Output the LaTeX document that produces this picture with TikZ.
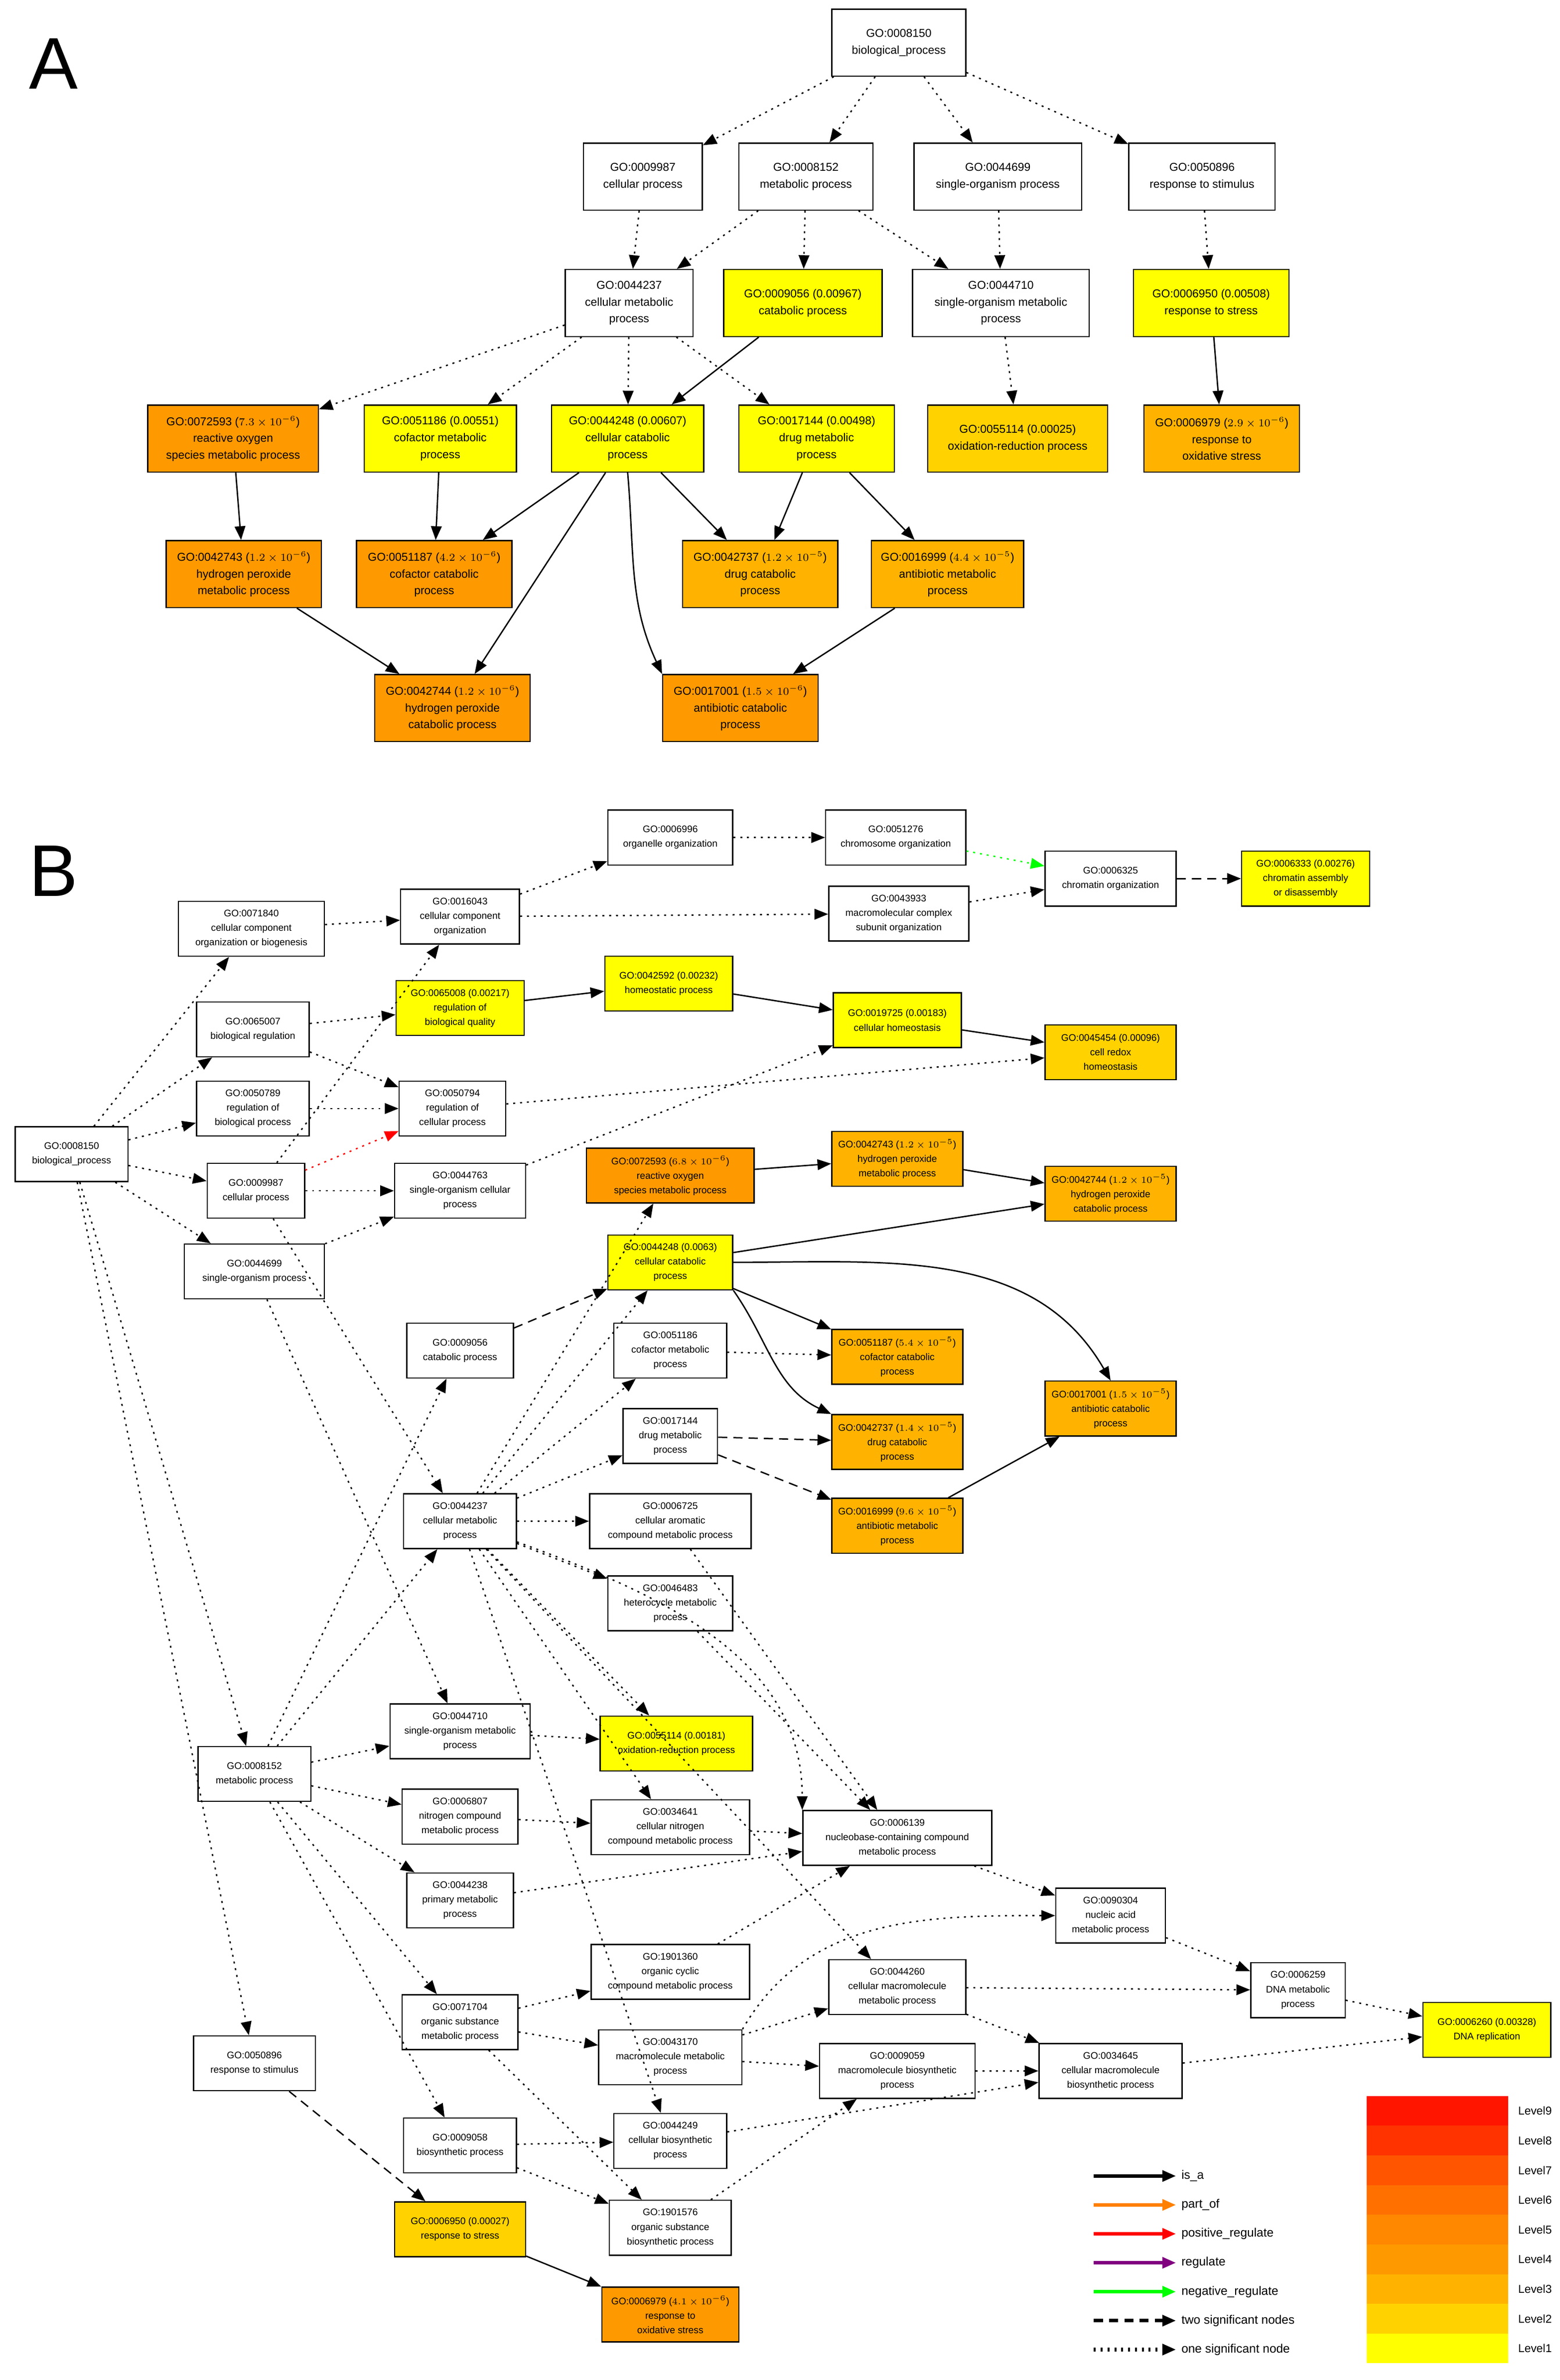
\documentclass[tikz,border=0pt]{standalone}
\usepackage{fontspec}
\setmainfont{Liberation Sans}
\usetikzlibrary{arrows.meta}
\definecolor{lv1}{HTML}{FFFF00}
\definecolor{lv2}{HTML}{FFD200}
\definecolor{lv3}{HTML}{FFB300}
\definecolor{lv4}{HTML}{FF9900}
\definecolor{lv5}{HTML}{FF8800}
\definecolor{lv6}{HTML}{FF7000}
\definecolor{lv7}{HTML}{FF5500}
\definecolor{lv8}{HTML}{FF3300}
\definecolor{lv9}{HTML}{FF1500}
\definecolor{regcol}{HTML}{800080}
\tikzset{
  box/.style={draw, thick, rectangle, align=center, fill=white, inner sep=2pt},
  boxa/.style={box, font=\fontsize{7.5}{11}\selectfont, minimum height=44pt},
  boxb/.style={box, font=\fontsize{6.3}{9.5}\selectfont, minimum height=36pt},
  isa/.style={-{Triangle[length=9pt,width=7pt]}, line width=0.9pt},
  dot/.style={isa, dash pattern=on 1.3pt off 3.2pt},
  dsh/.style={isa, dash pattern=on 6pt off 4pt},
}
\newcommand{\pv}[2]{(\ensuremath{#1\times10^{-#2}})}
\begin{document}
\begin{tikzpicture}[x=1pt,y=-1pt]
\useasboundingbox (0,0) rectangle (1024,1563);

%Panel letters
\node[font=\fontsize{48}{48}\selectfont\rmfamily] (lblA) at (35,42) {A};
\node[font=\fontsize{48}{48}\selectfont\rmfamily] (lblB) at (35,572) {B};

%Panel A nodes
\node[boxa, minimum width=88pt] (a0) at (590,28) {GO:0008150\\biological\_process};
\node[boxa, minimum width=78pt] (a1) at (422,116) {GO:0009987\\cellular process};
\node[boxa, minimum width=88pt] (a2) at (529,116) {GO:0008152\\metabolic process};
\node[boxa, minimum width=110pt] (a3) at (655,116) {GO:0044699\\single-organism process};
\node[boxa, minimum width=96pt] (a4) at (789,116) {GO:0050896\\response to stimulus};
\node[boxa, minimum width=84pt] (a5) at (413,199) {GO:0044237\\cellular metabolic\\process};
\node[boxa, minimum width=104pt, fill=lv1] (a6) at (527,199) {GO:0009056 (0.00967)\\catabolic process};
\node[boxa, minimum width=116pt] (a7) at (657,199) {GO:0044710\\single-organism metabolic\\process};
\node[boxa, minimum width=102pt, fill=lv1] (a8) at (795,199) {GO:0006950 (0.00508)\\response to stress};
\node[boxa, minimum width=112pt, fill=lv4] (a9) at (153,288) {GO:0072593 \pv{7.3}{6}\\reactive oxygen\\species metabolic process};
\node[boxa, minimum width=100pt, fill=lv1] (a10) at (289,288) {GO:0051186 (0.00551)\\cofactor metabolic\\process};
\node[boxa, minimum width=100pt, fill=lv1] (a11) at (412,288) {GO:0044248 (0.00607)\\cellular catabolic\\process};
\node[boxa, minimum width=102pt, fill=lv1] (a12) at (536,288) {GO:0017144 (0.00498)\\drug metabolic\\process};
\node[boxa, minimum width=118pt, fill=lv2] (a13) at (668,288) {GO:0055114 (0.00025)\\oxidation-reduction process};
\node[boxa, minimum width=102pt, fill=lv3] (a14) at (802,288) {GO:0006979 \pv{2.9}{6}\\response to\\oxidative stress};
\node[boxa, minimum width=102pt, fill=lv4] (a15) at (160,377) {GO:0042743 \pv{1.2}{6}\\hydrogen peroxide\\metabolic process};
\node[boxa, minimum width=102pt, fill=lv4] (a16) at (285,377) {GO:0051187 \pv{4.2}{6}\\cofactor catabolic\\process};
\node[boxa, minimum width=102pt, fill=lv3] (a17) at (499,377) {GO:0042737 \pv{1.2}{5}\\drug catabolic\\process};
\node[boxa, minimum width=100pt, fill=lv3] (a18) at (622,377) {GO:0016999 \pv{4.4}{5}\\antibiotic metabolic\\process};
\node[boxa, minimum width=102pt, fill=lv4] (a19) at (297,465) {GO:0042744 \pv{1.2}{6}\\hydrogen peroxide\\catabolic process};
\node[boxa, minimum width=102pt, fill=lv4] (a20) at (486,465) {GO:0017001 \pv{1.5}{6}\\antibiotic catabolic\\process};

%Panel A edges
\foreach \s/\t in {a0/a1,a0/a2,a0/a3,a0/a4,a1/a5,a2/a5,a2/a6,a2/a7,a3/a7,a4/a8,a5/a9,a5/a10,a5/a11,a5/a12,a7/a13}
  \draw[dot] (\s) -- (\t);
\foreach \s/\t in {a6/a11,a8/a14,a9/a15,a10/a16,a11/a16,a11/a19,a11/a17,a12/a17,a12/a18,a15/a19,a18/a20}
  \draw[isa] (\s) -- (\t);
\draw[isa] (a11.south) to[out=-85,in=115] (a20.north west);

%Panel B nodes
\node[boxb, minimum width=74pt] (b0) at (47,758) {GO:0008150\\biological\_process};
\node[boxb, minimum width=96pt] (b1) at (165,610) {GO:0071840\\cellular component\\organization or biogenesis};
\node[boxb, minimum width=74pt] (b2) at (166,676) {GO:0065007\\biological regulation};
\node[boxb, minimum width=74pt] (b3) at (166,728) {GO:0050789\\regulation of\\biological process};
\node[boxb, minimum width=64pt] (b4) at (168,782) {GO:0009987\\cellular process};
\node[boxb, minimum width=92pt] (b5) at (167,835) {GO:0044699\\single-organism process};
\node[boxb, minimum width=78pt] (b6) at (302,602) {GO:0016043\\cellular component\\organization};
\node[boxb, minimum width=84pt, fill=lv1] (b7) at (302,662) {GO:0065008 (0.00217)\\regulation of\\biological quality};
\node[boxb, minimum width=70pt] (b8) at (297,728) {GO:0050794\\regulation of\\cellular process};
\node[boxb, minimum width=86pt] (b9) at (302,782) {GO:0044763\\single-organism cellular\\process};
\node[boxb, minimum width=82pt] (b10) at (440,550) {GO:0006996\\organelle organization};
\node[boxb, minimum width=92pt] (b11) at (588,550) {GO:0051276\\chromosome organization};
\node[boxb, minimum width=92pt] (b12) at (590,600) {GO:0043933\\macromolecular complex\\subunit organization};
\node[boxb, minimum width=86pt] (b13) at (729,577) {GO:0006325\\chromatin organization};
\node[boxb, minimum width=84pt, fill=lv1] (b14) at (857,577) {GO:0006333 (0.00276)\\chromatin assembly\\or disassembly};
\node[boxb, minimum width=84pt, fill=lv1] (b15) at (439,646) {GO:0042592 (0.00232)\\homeostatic process};
\node[boxb, minimum width=84pt, fill=lv1] (b16) at (589,670) {GO:0019725 (0.00183)\\cellular homeostasis};
\node[boxb, minimum width=86pt, fill=lv2] (b17) at (729,691) {GO:0045454 (0.00096)\\cell redox\\homeostasis};
\node[boxb, minimum width=110pt, fill=lv4] (b18) at (440,772) {GO:0072593 \pv{6.8}{6}\\reactive oxygen\\species metabolic process};
\node[boxb, minimum width=86pt, fill=lv3] (b19) at (589,761) {GO:0042743 \pv{1.2}{5}\\hydrogen peroxide\\metabolic process};
\node[boxb, minimum width=86pt, fill=lv3] (b20) at (729,784) {GO:0042744 \pv{1.2}{5}\\hydrogen peroxide\\catabolic process};
\node[boxb, minimum width=82pt, fill=lv1] (b21) at (440,829) {GO:0044248 (0.0063)\\cellular catabolic\\process};
\node[boxb, minimum width=70pt] (b22) at (302,887) {GO:0009056\\catabolic process};
\node[boxb, minimum width=74pt] (b23) at (440,887) {GO:0051186\\cofactor metabolic\\process};
\node[boxb, minimum width=86pt, fill=lv3] (b24) at (589,891) {GO:0051187 \pv{5.4}{5}\\cofactor catabolic\\process};
\node[boxb, minimum width=86pt, fill=lv3] (b25) at (729,925) {GO:0017001 \pv{1.5}{5}\\antibiotic catabolic\\process};
\node[boxb, minimum width=62pt] (b26) at (440,943) {GO:0017144\\drug metabolic\\process};
\node[boxb, minimum width=86pt, fill=lv3] (b27) at (589,947) {GO:0042737 \pv{1.4}{5}\\drug catabolic\\process};
\node[boxb, minimum width=74pt] (b28) at (302,999) {GO:0044237\\cellular metabolic\\process};
\node[boxb, minimum width=106pt] (b29) at (440,999) {GO:0006725\\cellular aromatic\\compound metabolic process};
\node[boxb, minimum width=86pt, fill=lv3] (b30) at (589,1002) {GO:0016999 \pv{9.6}{5}\\antibiotic metabolic\\process};
\node[boxb, minimum width=82pt] (b31) at (440,1053) {GO:0046483\\heterocycle metabolic\\process};
\node[boxb, minimum width=92pt] (b32) at (302,1137) {GO:0044710\\single-organism metabolic\\process};
\node[boxb, minimum width=100pt, fill=lv1] (b33) at (444,1145) {GO:0055114 (0.00181)\\oxidation-reduction process};
\node[boxb, minimum width=74pt] (b34) at (167,1165) {GO:0008152\\metabolic process};
\node[boxb, minimum width=76pt] (b35) at (302,1193) {GO:0006807\\nitrogen compound\\metabolic process};
\node[boxb, minimum width=104pt] (b36) at (440,1200) {GO:0034641\\cellular nitrogen\\compound metabolic process};
\node[boxb, minimum width=124pt] (b37) at (589,1207) {GO:0006139\\nucleobase-containing compound\\metabolic process};
\node[boxb, minimum width=70pt] (b38) at (302,1248) {GO:0044238\\primary metabolic\\process};
\node[boxb, minimum width=72pt] (b39) at (729,1258) {GO:0090304\\nucleic acid\\metabolic process};
\node[boxb, minimum width=104pt] (b40) at (440,1295) {GO:1901360\\organic cyclic\\compound metabolic process};
\node[boxb, minimum width=90pt] (b41) at (589,1305) {GO:0044260\\cellular macromolecule\\metabolic process};
\node[boxb, minimum width=62pt] (b42) at (852,1307) {GO:0006259\\DNA metabolic\\process};
\node[boxb, minimum width=84pt, fill=lv1] (b43) at (976,1333) {GO:0006260 (0.00328)\\DNA replication};
\node[boxb, minimum width=76pt] (b44) at (302,1328) {GO:0071704\\organic substance\\metabolic process};
\node[boxb, minimum width=94pt] (b45) at (440,1351) {GO:0043170\\macromolecule metabolic\\process};
\node[boxb, minimum width=102pt] (b46) at (589,1360) {GO:0009059\\macromolecule biosynthetic\\process};
\node[boxb, minimum width=94pt] (b47) at (729,1360) {GO:0034645\\cellular macromolecule\\biosynthetic process};
\node[boxb, minimum width=80pt] (b48) at (167,1355) {GO:0050896\\response to stimulus};
\node[boxb, minimum width=74pt] (b49) at (302,1409) {GO:0009058\\biosynthetic process};
\node[boxb, minimum width=74pt] (b50) at (440,1406) {GO:0044249\\cellular biosynthetic\\process};
\node[boxb, minimum width=80pt] (b51) at (440,1463) {GO:1901576\\organic substance\\biosynthetic process};
\node[boxb, minimum width=86pt, fill=lv2] (b52) at (302,1464) {GO:0006950 (0.00027)\\response to stress};
\node[boxb, minimum width=90pt, fill=lv4] (b53) at (440,1520) {GO:0006979 \pv{4.1}{6}\\response to\\oxidative stress};

%Panel B edges
\foreach \s/\t in {b0/b1,b0/b2,b0/b3,b0/b4,b0/b5,b0/b34,b0/b48,b1/b6,b2/b7,b2/b8,b3/b8,b4/b9,b4/b6,b4/b28,
  b5/b9,b5/b32,b6/b10,b6/b12,b10/b11,b12/b13,b8/b17,b9/b16,b23/b24,
  b28/b18,b28/b21,b28/b23,b28/b26,b28/b29,b28/b31,b28/b36,b28/b41,b28/b50,b28/b33,
  b29/b37,b31/b37,b32/b33,b34/b22,b34/b28,b34/b32,b34/b35,b34/b38,b34/b44,b34/b49,
  b35/b36,b36/b37,b38/b37,b37/b39,b39/b42,b40/b37,b41/b42,b41/b47,b42/b43,
  b44/b40,b44/b45,b44/b51,b45/b41,b45/b46,b46/b47,b47/b43,b49/b50,b49/b51,b50/b47,b51/b46}
  \draw[dot] (\s) -- (\t);
\draw[dot] (b28) to[out=-20,in=90] (b37.north west);
\draw[dot] (b45.north east) to[out=60,in=180] (b39.west);
\draw[dot, red] (b4) -- (b8);
\draw[dot, green] (b11) -- (b13);
\foreach \s/\t in {b13/b14,b22/b21,b26/b27,b26/b30,b48/b52}
  \draw[dsh] (\s) -- (\t);
\foreach \s/\t in {b7/b15,b15/b16,b16/b17,b18/b19,b19/b20,b21/b20,b21/b24,b30/b25,b52/b53}
  \draw[isa] (\s) -- (\t);
\draw[isa] (b21.south east) to[out=-55,in=155] (b27.north west);
\draw[isa] (b21.east) to[out=0,in=120] (b25.north);

%Level legend
\foreach \i/\c in {1/lv1,2/lv2,3/lv3,4/lv4,5/lv5,6/lv6,7/lv7,8/lv8,9/lv9} {
  \fill[\c] (897,{1552-\i*19.5}) rectangle (990,{1552-(\i-1)*19.5});
  \node[anchor=west, font=\fontsize{7.5}{9}\selectfont] (lev\i) at (993,{1552-(\i-0.5)*19.5}) {Level\i};
}

%Relation legend
\foreach \n/\lab/\st/\col [count=\k] in {li/is\_a/isa/black,lp/part\_of/isa/orange,lr/positive\_regulate/isa/red,lg/regulate/isa/regcol,ln/negative\_regulate/isa/green,ld/two significant nodes/dsh/black,lo/one significant node/dot/black} {
  \coordinate (\n0) at (718,{1410+\k*19});
  \node[anchor=west, font=\fontsize{8}{9}\selectfont] (\n1) at (772,{1410+\k*19}) {\lab};
  \draw[\st, color=\col, line width=2.4pt] (\n0) -- (\n1.west);
}
\end{tikzpicture}
\end{document}
